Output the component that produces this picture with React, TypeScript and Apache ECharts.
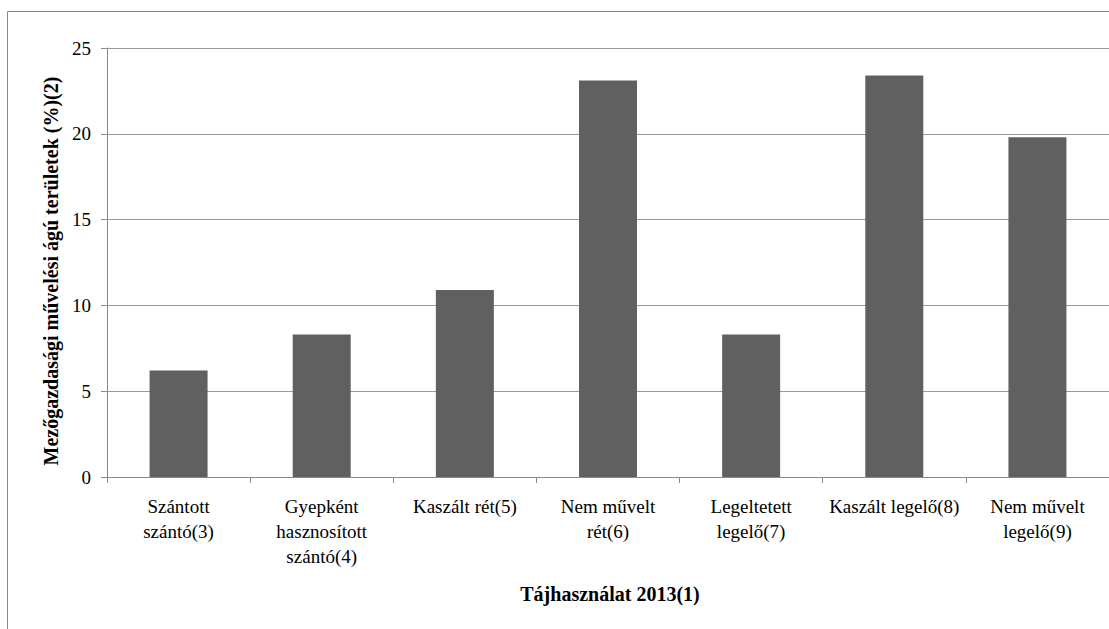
import React, { useEffect, useRef } from "react";
import * as echarts from "echarts";

const categories: string[] = [
  "Szántott\nszántó(3)",
  "Gyepként\nhasznosított\nszántó(4)",
  "Kaszált rét(5)",
  "Nem művelt\nrét(6)",
  "Legeltetett\nlegelő(7)",
  "Kaszált legelő(8)",
  "Nem művelt\nlegelő(9)",
];
const values: number[] = [6.2, 8.3, 10.9, 23.1, 8.3, 23.4, 19.8];
const yTitle = "Mezőgazdasági művelési ágú területek (%)(2)";
const xTitle = "Tájhasználat 2013(1)";

const FONT = "Liberation Serif";

export default function App() {
  const ref = useRef<HTMLDivElement>(null);
  useEffect(() => {
    if (!ref.current) return;
    const chart = echarts.init(ref.current, null, { renderer: "svg" });
    chart.setOption({
      animation: false,
      backgroundColor: "#ffffff",
      textStyle: { fontFamily: FONT },
      grid: { left: 107, right: -3, top: 48, bottom: 152, containLabel: false },
      xAxis: {
        type: "category",
        data: categories,
        boundaryGap: true,
        axisLine: { show: true, lineStyle: { color: "#8a8a8a", width: 1 } },
        axisTick: { show: true, length: 6, lineStyle: { color: "#8a8a8a" } },
        axisLabel: {
          interval: 0,
          margin: 17,
          color: "#000",
          fontFamily: FONT,
          fontSize: 19,
          lineHeight: 25,
          align: "center",
        },
        splitLine: { show: false },
      },
      yAxis: {
        type: "value",
        min: 0,
        max: 25,
        interval: 5,
        axisLine: { show: true, lineStyle: { color: "#8a8a8a", width: 1 } },
        axisTick: { show: true, length: 6, lineStyle: { color: "#8a8a8a" } },
        axisLabel: { margin: 16, color: "#000", fontFamily: FONT, fontSize: 19 },
        splitLine: { show: true, lineStyle: { color: "#9a9a9a", width: 1 } },
      },
      series: [
        {
          type: "bar",
          data: values,
          barWidth: 58,
          itemStyle: { color: "#606060" },
        },
      ],
      graphic: [
        {
          type: "rect",
          shape: { x: 7.5, y: 11.5, width: 1300, height: 1000 },
          style: { fill: "none", stroke: "#8a8a8a", lineWidth: 1 },
          silent: true,
        },
        {
          type: "text",
          x: 51,
          y: 271,
          rotation: Math.PI / 2,
          style: {
            text: yTitle,
            font: `bold 20px ${FONT}`,
            fill: "#000",
            align: "center",
            verticalAlign: "middle",
          },
        },
        {
          type: "text",
          x: 610,
          y: 594,
          style: {
            text: xTitle,
            font: `bold 20px ${FONT}`,
            fill: "#000",
            align: "center",
            verticalAlign: "middle",
          },
        },
      ],
    });
    return () => chart.dispose();
  }, []);
  return (
    <div
      ref={ref}
      style={{ position: "fixed", left: 0, top: 0, width: 1109, height: 629 }}
    />
  );
}
